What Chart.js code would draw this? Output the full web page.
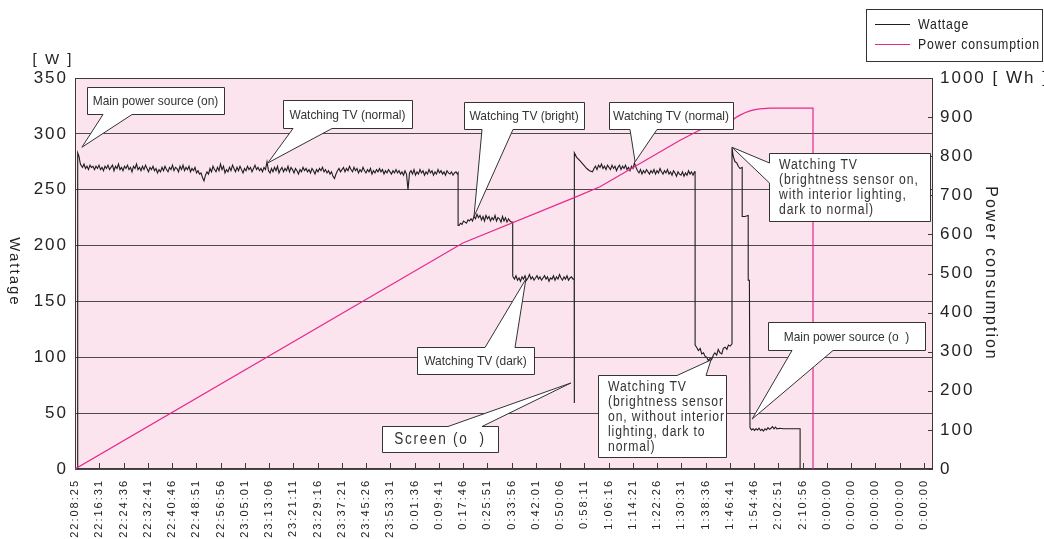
<!DOCTYPE html>
<html lang="en">
  <head>
    <meta charset="UTF-8" />
    <script src="https://cdn.jsdelivr.net/npm/chart.js@4.4.0/dist/chart.umd.min.js"></script>
    <title>Wattage and power consumption</title>
    <style>
      body {
        margin: 0;
        padding: 0;
        background: white;
      }
      canvas {
        display: block;
      }
    </style>
  </head>
  <body>
    <canvas id="chart" width="1044" height="539"></canvas>
    <script>
      // x values are minutes after 22:08:25, the axis has one label every 8:05
      const tickLabels = [
        '22:08:25', '22:16:31', '22:24:36', '22:32:41', '22:40:46', '22:48:51',
        '22:56:56', '23:05:01', '23:13:06', '23:21:11', '23:29:16', '23:37:21',
        '23:45:26', '23:53:31', '0:01:36', '0:09:41', '0:17:46', '0:25:51',
        '0:33:56', '0:42:01', '0:50:06', '0:58:11', '1:06:16', '1:14:21',
        '1:22:26', '1:30:31', '1:38:36', '1:46:41', '1:54:46', '2:02:51',
        '2:10:56', '0:00:00', '0:00:00', '0:00:00', '0:00:00', '0:00:00',
      ]
      const tickStep = 485 / 60
      const xMax = 286

      // W readings every half minute; first value is at the minute named
      const normalFrom = 2
      const normal = [
        272, 270, 273, 269, 271, 268, 272, 270, 271, 268,
        271, 269, 272, 268, 270, 267, 271, 269, 272, 268,
        270, 272, 267, 271, 269, 273, 268, 270, 267, 271,
        269, 272, 268, 270, 266, 271, 269, 273, 268, 270,
        267, 271, 268, 272, 269, 266, 270, 268, 271, 267,
        269, 265, 268, 266, 270, 267, 271, 268, 266, 270,
        268, 272, 267, 270, 269, 266, 271, 268, 272, 267,
        270, 268, 271, 266, 269, 267, 270, 265, 267, 264,
        265, 261, 258, 263, 266, 264, 269, 266, 271, 268,
        266, 270, 267, 273, 268, 271, 265, 268, 266, 270,
        267, 272, 269, 266, 270, 267, 271, 268, 265, 269,
        267, 271, 268, 270, 266, 269, 272, 268, 270, 267,
        269, 266, 270, 268, 275, 267, 265, 269, 266, 270,
        267, 271, 265, 268, 270, 266, 269, 267, 271, 266,
        270, 268, 265, 269, 267, 264, 268, 266, 270, 267,
        269, 266, 268, 265, 269, 267, 264, 268, 266, 269,
        267, 270, 266, 268, 265, 267, 264, 266, 262, 260,
        264, 267, 269, 266, 268, 270, 266, 269, 267, 271,
        268, 266, 270, 267, 269, 265, 268, 266, 270, 267,
        265, 268, 266, 269, 264, 267, 265, 268, 266, 269,
        266, 268, 264, 267, 265, 268, 266, 264, 267, 265,
        268, 265, 267, 264, 266, 263, 267, 264, 250, 265,
        267, 264, 268, 263, 266, 264, 268, 265, 267, 263,
        266, 264, 268, 265, 267, 263, 266, 264, 268, 265,
        267, 264, 266, 263, 267, 265, 264, 266, 263, 265,
        266, 264,
      ]
      const brightFrom = 128
      const bright = [
        218, 220, 219, 222, 221, 220, 223, 222, 224, 222,
        226, 224, 228, 225, 227, 223, 226, 222, 227, 224,
        226, 222, 225, 223, 227, 222, 225, 224, 221, 226,
        222, 225, 221, 224, 222, 221,
      ]
      const darkFrom = 146
      const dark = [
        172, 170, 173, 169, 171, 168, 172, 170, 173, 169,
        171, 174, 170, 172, 169, 171, 173, 170, 172, 169,
        171, 173, 170, 172, 168, 171, 170, 173, 169, 172,
        170, 174, 171, 169, 172, 170, 173, 169, 171, 172,
        170,
      ]
      const normal2From = 173
      const normal2 = [
        269, 271, 268, 272, 270, 273, 269, 271, 268, 272,
        270, 268, 272, 269, 271, 267, 270, 272, 268, 271,
        269, 272, 268, 270, 267, 271, 269, 274, 270, 267,
        265, 268, 264, 267, 265, 268, 266, 264, 267, 265,
        268, 264, 267, 265, 269, 266, 264, 267, 265, 268,
        264, 266, 263, 267, 265, 262, 266, 264, 263, 266,
        262, 265, 263, 267, 264, 266, 263, 266,
      ]
      // [minute, W] for switch-overs and the short stretches between the runs
      const wattageEdges = [
        [0.9, 0], [0.9, 283], [1.3, 280], [1.8, 273],
        [127.7, 265], [127.7, 218],
        [145.9, 221], [145.9, 173],
        [166.4, 170], [166.4, 59], [166.5, 283], [167.2, 279], [168.3, 276], [169.3, 273],
        [170.6, 269], [171.5, 267], [172.5, 266],
        [206.7, 266], [206.7, 111],
        [207.2, 109], [207.8, 106], [208.4, 108], [208.9, 103], [209.5, 104], [210, 101],
        [210.6, 100], [211.1, 97], [211.7, 99], [212.2, 98], [212.8, 102], [213.3, 104],
        [213.9, 102], [214.4, 107], [215, 104], [215.6, 103], [216.1, 108], [216.7, 109],
        [217.3, 107], [217.8, 111], [218.4, 110], [219, 112], [219, 288],
        [219.4, 280], [220, 275], [220.6, 274], [221.1, 271], [221.7, 269], [222.4, 270],
        [222.4, 226], [223.3, 226], [224.4, 227], [224.4, 169], [224.8, 169], [225, 37],
        [225.5, 35], [226, 36], [226.5, 34.5], [227, 36], [227.5, 35], [228, 36.5], [228.5, 34.5],
        [229, 35.5], [229.5, 34], [230, 36], [230.5, 35], [231, 37], [231.5, 35.5], [232, 36.5],
        [232.5, 38], [233, 36], [233.5, 37.5], [234, 36], [235, 36.5], [236, 36], [241.7, 36],
        [241.7, 0],
      ]

      // [minute, Wh]
      const consumption = [
        [0, 0], [129.3, 578], [166.4, 694], [175, 722], [201.7, 841], [208.3, 867],
        [219.3, 893], [220.5, 900], [221.7, 905], [223.3, 911], [225, 916], [226.7, 919],
        [228.3, 921], [231.7, 923], [246, 923], [246, 0],
      ]

      // tip is [minute, W]; box and base are in pixels
      const callouts = [
        { lines: ['Main power source (on)'], tip: [2.3, 288], box: [87, 87, 137, 27], edge: 'bottom', base: [103, 132], style: 'small' },
        { lines: ['Watching TV (normal)'], tip: [64.3, 274], box: [283, 100, 129, 28], edge: 'bottom', base: [293, 332], style: 'small' },
        { lines: ['Watching TV (bright)'], tip: [133, 226], box: [464, 102, 120, 27], edge: 'bottom', base: [482, 513], style: 'small' },
        { lines: ['Watching TV (normal)'], tip: [186.7, 275], box: [609, 102, 124, 27], edge: 'bottom', base: [630, 657], style: 'small' },
        { lines: ['Watching TV', '(brightness sensor on,', 'with interior lighting,', 'dark to normal)'], tip: [219, 288], box: [769, 153, 161, 68], edge: 'left', base: [163, 183], style: 'wide' },
        { lines: ['Watching TV (dark)'], tip: [150.3, 170], box: [417, 347, 117, 27], edge: 'top', base: [485, 515], style: 'small' },
        { lines: ['Screen (o  )'], tip: [165.3, 77], box: [382, 426, 116, 26], edge: 'top', base: [448, 482], style: 'big' },
        { lines: ['Watching TV', '(brightness sensor', 'on, without interior', 'lighting, dark to', 'normal)'], tip: [212, 97.6], box: [598, 375, 128, 82], edge: 'top', base: [677, 706], style: 'wide' },
        { lines: ['Main power source (o  )'], tip: [225.7, 44.7], box: [768, 322, 157, 28], edge: 'bottom', base: [792, 833], style: 'small' },
      ]

      const FONT = "'Liberation Sans', Arial, sans-serif"
      const textStyles = {
        small: { size: 13, squeeze: 0.92, spacing: 0 },
        wide: { size: 14, squeeze: 0.87, spacing: 1 },
        big: { size: 16, squeeze: 0.85, spacing: 2 },
      }

      const runPoints = (from, values) =>
        values.map((w, i) => ({ x: from + i * 0.5, y: w }))

      const wattagePoints = [
        ...wattageEdges.map(([x, y]) => ({ x, y })),
        ...runPoints(normalFrom, normal),
        ...runPoints(brightFrom, bright),
        ...runPoints(darkFrom, dark),
        ...runPoints(normal2From, normal2),
      ].sort((a, b) => a.x - b.x)

      const calloutPath = (ctx, c, tip) => {
        const [x0, y0, w, h] = c.box
        const x = x0 + 0.5
        const y = y0 + 0.5
        const [a, b] = c.base
        ctx.beginPath()
        ctx.moveTo(x, y)
        if (c.edge === 'top') {
          ctx.lineTo(a, y)
          ctx.lineTo(tip.x, tip.y)
          ctx.lineTo(b, y)
        }
        ctx.lineTo(x + w, y)
        ctx.lineTo(x + w, y + h)
        if (c.edge === 'bottom') {
          ctx.lineTo(b, y + h)
          ctx.lineTo(tip.x, tip.y)
          ctx.lineTo(a, y + h)
        }
        ctx.lineTo(x, y + h)
        if (c.edge === 'left') {
          ctx.lineTo(x, b)
          ctx.lineTo(tip.x, tip.y)
          ctx.lineTo(x, a)
        }
        ctx.closePath()
      }

      const decorations = {
        id: 'decorations',
        beforeDraw(chart) {
          const { ctx, chartArea: area } = chart
          ctx.save()
          ctx.fillStyle = '#fbe4ee'
          ctx.fillRect(area.left, area.top, area.right - area.left, area.bottom - area.top)
          ctx.restore()
          // axis text in the original is widely spaced
          ctx.letterSpacing = '2px'
        },
        beforeDatasetsDraw(chart) {
          const { ctx, chartArea: area, scales } = chart
          ctx.save()
          ctx.strokeStyle = '#3a3a3a'
          ctx.lineWidth = 1
          ctx.strokeRect(area.left + 0.5, area.top + 0.5, area.right - area.left - 1, area.bottom - area.top - 1)
          ctx.beginPath()
          scales.x.ticks.forEach((t) => {
            const px = Math.round(scales.x.getPixelForValue(t.value)) + 0.5
            ctx.moveTo(px, area.bottom)
            ctx.lineTo(px, area.bottom - 6)
          })
          scales.y1.ticks.forEach((t) => {
            const py = Math.round(scales.y1.getPixelForValue(t.value)) + 0.5
            ctx.moveTo(area.right, py)
            ctx.lineTo(area.right - 5, py)
          })
          ctx.stroke()
          ctx.restore()
        },
        afterDatasetsDraw(chart) {
          const { ctx, scales } = chart
          callouts.forEach((c) => {
            const tip = {
              x: scales.x.getPixelForValue(c.tip[0]),
              y: scales.y.getPixelForValue(c.tip[1]),
            }
            ctx.save()
            calloutPath(ctx, c, tip)
            ctx.fillStyle = 'white'
            ctx.fill()
            ctx.strokeStyle = '#333'
            ctx.lineWidth = 1
            ctx.stroke()

            const st = textStyles[c.style]
            const [x, y, w, h] = c.box
            ctx.fillStyle = '#333'
            ctx.font = `${st.size}px ${FONT}`
            ctx.letterSpacing = `${st.spacing}px`
            ctx.textBaseline = 'middle'
            if (c.lines.length === 1) {
              ctx.translate(x + w / 2, y + h / 2 + 1)
              ctx.scale(st.squeeze, 1)
              ctx.textAlign = 'center'
              ctx.fillText(c.lines[0], 0, 0)
            } else {
              ctx.translate(x + 10, y + 12)
              ctx.scale(st.squeeze, 1)
              ctx.textAlign = 'left'
              c.lines.forEach((line, i) => ctx.fillText(line, 0, i * 15))
            }
            ctx.restore()
          })
        },
        afterDraw(chart) {
          const { ctx } = chart
          ctx.save()
          ctx.fillStyle = '#222'
          ctx.font = `15px ${FONT}`
          ctx.letterSpacing = '2px'
          ctx.textAlign = 'center'
          ctx.textBaseline = 'middle'
          ctx.fillText('[ W ]', 53, 60)
          ctx.translate(14, 272)
          ctx.rotate(Math.PI / 2)
          ctx.fillText('Wattage', 0, 0)
          ctx.restore()

          // legend
          ctx.save()
          ctx.fillStyle = 'white'
          ctx.fillRect(866, 9, 176, 52)
          ctx.strokeStyle = '#333'
          ctx.lineWidth = 1
          ctx.strokeRect(866.5, 9.5, 176, 52)
          ctx.font = `15px ${FONT}`
          ctx.letterSpacing = '1px'
          ctx.textBaseline = 'middle'
          chart.data.datasets.forEach((ds, i) => {
            const ly = 24 + i * 20 + 0.5
            ctx.strokeStyle = ds.borderColor
            ctx.beginPath()
            ctx.moveTo(875, ly)
            ctx.lineTo(910, ly)
            ctx.stroke()
            ctx.save()
            ctx.translate(918, ly)
            ctx.scale(0.82, 1)
            ctx.fillStyle = '#222'
            ctx.fillText(ds.label, 0, 0)
            ctx.restore()
          })
          ctx.restore()
        },
      }

      new Chart(document.getElementById('chart'), {
        type: 'line',
        data: {
          datasets: [
            {
              label: 'Wattage',
              data: wattagePoints,
              borderColor: '#1e1e1e',
              borderWidth: 1.1,
              pointRadius: 0,
              yAxisID: 'y',
              order: 1,
            },
            {
              label: 'Power consumption',
              data: consumption.map(([x, y]) => ({ x, y })),
              borderColor: '#e6288c',
              borderWidth: 1.2,
              pointRadius: 0,
              yAxisID: 'y1',
              order: 0,
            },
          ],
        },
        options: {
          responsive: false,
          animation: false,
          devicePixelRatio: 1,
          layout: { padding: { top: 78, left: 0, right: 0, bottom: 0 } },
          plugins: {
            legend: { display: false },
            tooltip: { enabled: false },
          },
          scales: {
            x: {
              type: 'linear',
              position: 'bottom',
              min: 0,
              max: xMax,
              afterBuildTicks: (scale) => {
                scale.ticks = tickLabels.map((_, k) => ({ value: k * tickStep }))
              },
              afterFit: (scale) => {
                scale.height = 70
              },
              grid: { display: false, drawTicks: false },
              border: { display: false },
              ticks: {
                autoSkip: false,
                minRotation: 90,
                maxRotation: 90,
                padding: 10,
                color: '#222',
                font: { family: FONT, size: 11 },
                callback: (value, index) => tickLabels[index],
              },
            },
            y: {
              position: 'left',
              min: 0,
              max: 350,
              afterFit: (scale) => {
                scale.width = 75
              },
              grid: { color: '#4a4a4a', drawTicks: false },
              border: { display: false },
              ticks: {
                stepSize: 50,
                padding: 7,
                color: '#222',
                font: { family: FONT, size: 17 },
              },
            },
            y1: {
              position: 'right',
              min: 0,
              max: 1000,
              afterFit: (scale) => {
                scale.width = 111
              },
              grid: { drawOnChartArea: false, drawTicks: false },
              border: { display: false },
              title: {
                display: true,
                text: 'Power consumption',
                color: '#222',
                font: { family: FONT, size: 16 },
                padding: { top: 44, bottom: 0 },
              },
              ticks: {
                stepSize: 100,
                padding: 7,
                color: '#222',
                font: { family: FONT, size: 17 },
                callback: (value) => (value === 1000 ? '1000 [ Wh ]' : value),
              },
            },
          },
        },
        plugins: [decorations],
      })
    </script>
  </body>
</html>
